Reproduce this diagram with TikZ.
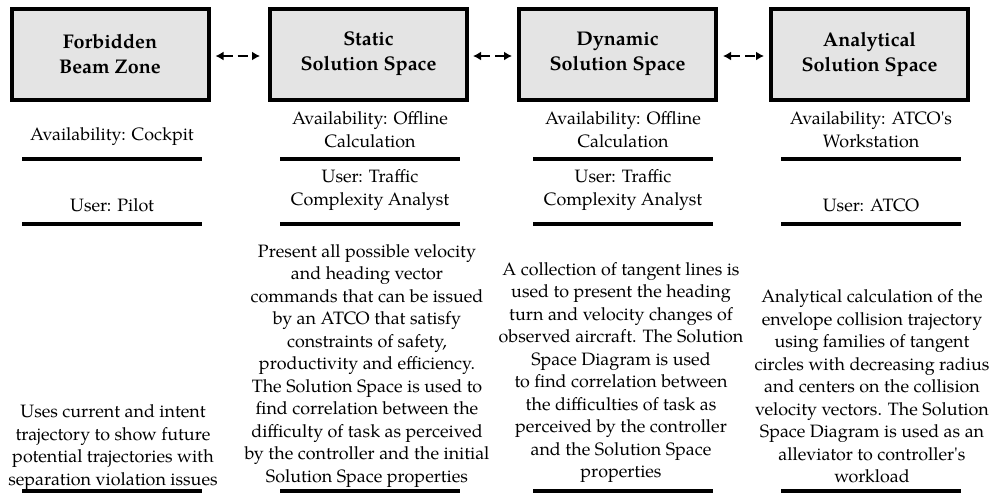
\documentclass[tikz,border=0pt]{standalone}
\usepackage{fontspec}
\setmainfont{TeX Gyre Pagella}[Ligatures=TeXReset]
\usetikzlibrary{arrows.meta}

\tikzset{
  titlebox/.style={draw=black, line width=4pt, fill=boxgray, minimum width=197pt,
    minimum height=91pt, align=center, inner sep=0pt,
    font=\fontsize{19.8pt}{25pt}\selectfont\bfseries},
  infotext/.style={align=center, inner sep=0pt, font=\fontsize{17.9pt}{22.5pt}\selectfont},
  rulebar/.style={line width=4pt},
  linkarrow/.style={line width=2.5pt, dash pattern=on 10pt off 5pt,
    {Latex[length=8pt,width=9pt]}-{Latex[length=8pt,width=9pt]}}
}
\definecolor{boxgray}{HTML}{E4E4E4}

\begin{document}
\begin{tikzpicture}[x=1pt,y=-1pt]
\useasboundingbox (0,0) rectangle (995,493);

% title boxes
\node[titlebox] (fbz) at (110,54)   {Forbidden\\Beam Zone};
\node[titlebox] (sss) at (368.5,54) {Static\\Solution Space};
\node[titlebox] (dss) at (617.5,54) {Dynamic\\Solution Space};
\node[titlebox] (ass) at (869.5,54) {Analytical\\Solution Space};

% two-way links between neighbouring boxes
\draw[linkarrow] ([xshift=5pt,yshift=-2pt]fbz.east) -- ([xshift=-8pt,yshift=-2pt]sss.west);
\draw[linkarrow] ([xshift=4pt,yshift=-2pt]sss.east) -- ([xshift=-5pt,yshift=-2pt]dss.west);
\draw[linkarrow] ([xshift=5pt,yshift=-2pt]dss.east) -- ([xshift=-5pt,yshift=-2pt]ass.west);

% availability
\node[infotext] (av1) at (112,137)   {Availability: Cockpit};
\node[infotext] (av2) at (370,129.5) {Availability: Offline\\Calculation};
\node[infotext] (av3) at (623,129.5) {Availability: Offline\\Calculation};
\node[infotext] (av4) at (871,129.5) {Availability: ATCO's\\Workstation};

% users
\node[infotext] (us1) at (112,205) {User: Pilot};
\node[infotext] (us2) at (370,190) {User: Traffic\\Complexity Analyst};
\node[infotext] (us3) at (623,190) {User: Traffic\\Complexity Analyst};
\node[infotext] (us4) at (871,205) {User: ATCO};

% descriptions
\node[infotext] (ds1) at (113,447.5) {Uses current and intent\\trajectory to show future\\potential trajectories with\\separation violation issues};
\node[infotext] (ds2) at (367,366) {Present all possible velocity\\and heading vector\\commands that can be issued\\by an ATCO that satisfy\\constraints of safety,\\productivity and efficiency.\\The Solution Space is used to\\find correlation between the\\difficulty of task as perceived\\by the controller and the initial\\Solution Space properties};
\node[infotext] (ds3) at (621,372.5) {A collection of tangent lines is\\used to present the heading\\turn and velocity changes of\\observed aircraft. The Solution\\Space Diagram is used\\to find correlation between\\the difficulties of task as\\perceived by the controller\\and the Solution Space\\properties};
\node[infotext] (ds4) at (872,386.5) {Analytical calculation of the\\envelope collision trajectory\\using families of tangent\\circles with decreasing radius\\and centers on the collision\\velocity vectors. The Solution\\Space Diagram is used as an\\alleviator to controller's\\workload};

% separator rules under each column
\foreach \cx in {112,370,623,871}{
  \draw[rulebar] (\cx-90,159) -- (\cx+90,159);
  \draw[rulebar] (\cx-90,224) -- (\cx+90,224);
  \draw[rulebar] (\cx-90,491) -- (\cx+90,491);
}
\end{tikzpicture}
\end{document}
